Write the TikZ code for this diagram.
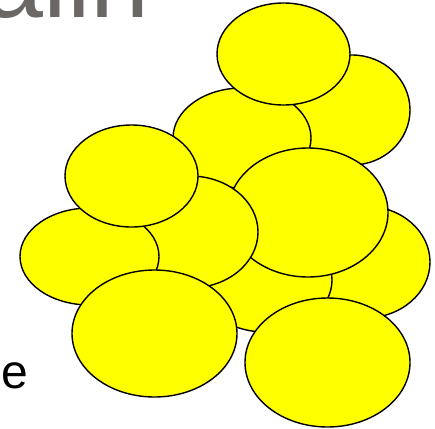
\documentclass[tikz,border=0pt]{standalone}
\usepackage{fontspec}
\setmainfont{Liberation Sans}
\definecolor{headgray}{RGB}{107,103,101}
\definecolor{blobyellow}{RGB}{255,255,0}

\begin{document}
\begin{tikzpicture}[
    x=1pt, y=-1pt,
    blob/.style={draw=black, fill=blobyellow, line width=1.4pt},
    headtext/.style={inner sep=0pt, text=headgray,
                     font=\fontsize{106pt}{106pt}\selectfont},
    sidetext/.style={inner sep=0pt, text=black,
                     font=\fontsize{48pt}{48pt}\selectfont}
  ]
  \useasboundingbox (0,0) rectangle (435,428);
  \clip (0,0) rectangle (435,428);

  % ---- cut-off text ----
  \node[headtext, anchor=base east] (head) at (150,18) {alin};
  \node[sidetext, anchor=base west] (side) at (1,388.5) {e};

  % ---- back of the heap ----
  \draw[blob] (352,110) ellipse [x radius=58pt, y radius=55pt];
  \draw[blob] (242,138) ellipse [x radius=69pt, y radius=50pt];
  \draw[blob] (283.5,54) ellipse [x radius=66.5pt, y radius=51pt];

  % ---- middle ----
  \draw[blob] (365,262) ellipse [x radius=65pt, y radius=56pt];
  \draw[blob] (265,280) ellipse [x radius=67pt, y radius=52pt];
  \draw[blob] (308,212.5) ellipse [x radius=80pt, y radius=64.5pt];
  \draw[blob] (190,232) ellipse [x radius=68pt, y radius=56pt];
  \draw[blob] (89.5,256.5) ellipse [x radius=69.5pt, y radius=48.5pt];
  \draw[blob] (131.5,176) ellipse [x radius=66.5pt, y radius=51pt];

  % ---- front row ----
  \draw[blob] (154.5,333.5) ellipse [x radius=82.5pt, y radius=63.5pt];
  \draw[blob] (327.5,362.5) ellipse [x radius=82.5pt, y radius=64.5pt];

\end{tikzpicture}
\end{document}
